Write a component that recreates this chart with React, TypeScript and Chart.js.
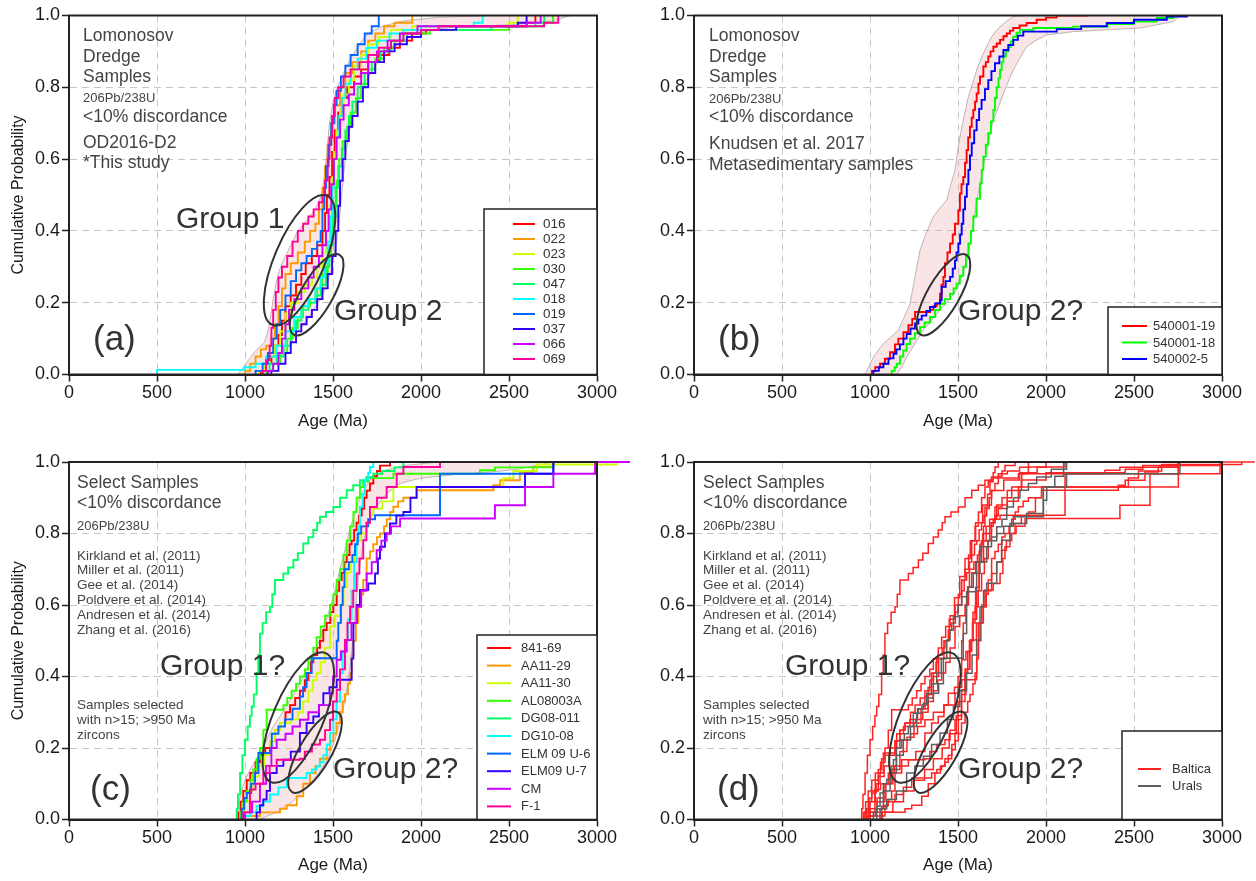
import React, { useEffect, useRef } from "react";
import { Chart, registerables } from "chart.js";

Chart.register(...registerables);

type Pt = [number, number];
const FONT = '"Liberation Sans", Arial, Helvetica, sans-serif';
Chart.defaults.font.family = FONT;

// ---------- axes ----------
const X_TICKS = [0, 500, 1000, 1500, 2000, 2500, 3000];
const Y_TICKS = [0, 0.2, 0.4, 0.6, 0.8, 1.0];
const X_TITLE = "Age (Ma)";
const Y_TITLE = "Cumulative Probability";

const RAINBOW10 = ["#FF0000", "#FF9900", "#CCFF00", "#33FF00", "#00FF66", "#00FFFF", "#0066FF", "#3300FF", "#CC00FF", "#FF0099"];

// ---------- panel (a) ----------
const A_LABELS = ["016", "022", "023", "030", "047", "018", "019", "037", "066", "069"];
const A_016: Pt[] = [[1090,0],[1090,0.01],[1120,0.03],[1150,0.05],[1170,0.08],[1190,0.11],[1210,0.15],[1230,0.19],[1260,0.22],[1290,0.25],[1320,0.28],[1345,0.31],[1380,0.33],[1410,0.36],[1440,0.4],[1455,0.45],[1465,0.5],[1480,0.55],[1495,0.62],[1510,0.68],[1530,0.73],[1550,0.77],[1580,0.8],[1620,0.83],[1660,0.85],[1700,0.87],[1760,0.89],[1820,0.91],[1880,0.93],[1950,0.95],[2030,0.96],[2200,0.97],[2600,0.98],[2650,1.0]];
const A_022: Pt[] = [[1000,0],[1000,0.01],[1030,0.03],[1060,0.05],[1090,0.07],[1120,0.08],[1150,0.1],[1170,0.14],[1190,0.19],[1210,0.24],[1230,0.28],[1260,0.31],[1300,0.34],[1340,0.37],[1370,0.4],[1400,0.42],[1420,0.46],[1440,0.52],[1455,0.58],[1470,0.64],[1490,0.7],[1510,0.75],[1540,0.8],[1570,0.84],[1610,0.87],[1660,0.9],[1700,0.93],[1740,0.95],[1790,0.97],[1850,0.98],[1950,1.0]];
const A_023: Pt[] = [[1080,0],[1080,0.01],[1110,0.03],[1140,0.05],[1170,0.08],[1200,0.12],[1230,0.17],[1260,0.2],[1300,0.23],[1340,0.25],[1380,0.27],[1410,0.3],[1440,0.34],[1460,0.4],[1480,0.47],[1495,0.55],[1505,0.62],[1520,0.68],[1540,0.74],[1560,0.78],[1590,0.82],[1620,0.86],[1660,0.89],[1700,0.92],[1760,0.94],[1830,0.96],[1950,0.97],[2500,0.98],[2550,1.0]];
const A_030: Pt[] = [[1120,0],[1120,0.01],[1160,0.03],[1200,0.06],[1240,0.1],[1270,0.13],[1300,0.16],[1330,0.19],[1370,0.21],[1410,0.24],[1440,0.28],[1470,0.33],[1490,0.4],[1505,0.47],[1520,0.54],[1535,0.6],[1555,0.65],[1580,0.69],[1600,0.73],[1630,0.77],[1660,0.81],[1700,0.85],[1740,0.88],[1790,0.91],[1850,0.93],[1920,0.95],[2050,0.96],[2500,0.97],[2700,0.98],[2750,1.0]];
const A_047: Pt[] = [[1100,0],[1100,0.01],[1140,0.03],[1180,0.05],[1220,0.08],[1260,0.12],[1290,0.15],[1320,0.18],[1360,0.2],[1400,0.22],[1430,0.25],[1460,0.3],[1480,0.36],[1500,0.44],[1515,0.52],[1530,0.58],[1550,0.63],[1570,0.68],[1590,0.72],[1610,0.76],[1640,0.8],[1680,0.84],[1720,0.87],[1770,0.9],[1830,0.93],[1900,0.95],[2000,0.96],[2400,0.97],[2650,0.98],[2700,1.0]];
const A_018: Pt[] = [[500,0],[500,0.013],[1000,0.02],[1060,0.03],[1120,0.05],[1180,0.08],[1230,0.12],[1280,0.16],[1320,0.19],[1360,0.21],[1400,0.24],[1430,0.27],[1450,0.31],[1470,0.37],[1485,0.44],[1495,0.52],[1505,0.6],[1520,0.66],[1535,0.72],[1550,0.77],[1570,0.81],[1600,0.85],[1640,0.88],[1690,0.91],[1750,0.93],[1820,0.95],[1900,0.96],[2000,0.97],[2300,0.98],[2350,1.0]];
const A_019: Pt[] = [[1060,0],[1060,0.01],[1100,0.03],[1130,0.06],[1160,0.1],[1180,0.14],[1200,0.18],[1230,0.22],[1260,0.26],[1290,0.29],[1320,0.31],[1350,0.33],[1380,0.35],[1410,0.37],[1430,0.4],[1440,0.46],[1450,0.52],[1460,0.58],[1475,0.64],[1490,0.7],[1505,0.75],[1520,0.79],[1545,0.83],[1570,0.86],[1600,0.89],[1640,0.92],[1680,0.95],[1720,0.97],[1760,1.0]];
const A_037: Pt[] = [[1150,0],[1150,0.01],[1190,0.03],[1230,0.06],[1260,0.09],[1290,0.12],[1320,0.14],[1350,0.16],[1380,0.18],[1410,0.21],[1440,0.24],[1470,0.28],[1495,0.33],[1515,0.4],[1530,0.47],[1540,0.54],[1555,0.6],[1570,0.65],[1590,0.69],[1610,0.72],[1640,0.76],[1670,0.8],[1700,0.84],[1740,0.87],[1790,0.9],[1850,0.92],[1920,0.94],[2000,0.96],[2200,0.97],[2550,0.98],[2600,1.0]];
const A_066: Pt[] = [[1130,0],[1130,0.01],[1160,0.03],[1190,0.06],[1210,0.1],[1230,0.14],[1250,0.18],[1280,0.21],[1320,0.24],[1360,0.27],[1390,0.3],[1420,0.33],[1440,0.36],[1460,0.4],[1475,0.46],[1490,0.53],[1505,0.6],[1520,0.66],[1540,0.71],[1560,0.75],[1590,0.78],[1620,0.81],[1660,0.84],[1700,0.87],[1750,0.9],[1810,0.93],[1880,0.95],[1980,0.97],[2600,0.98],[2680,1.0]];
const A_069: Pt[] = [[1100,0],[1100,0.01],[1120,0.04],[1140,0.08],[1150,0.13],[1160,0.18],[1175,0.23],[1190,0.27],[1210,0.3],[1240,0.33],[1270,0.37],[1300,0.4],[1330,0.42],[1360,0.44],[1390,0.46],[1420,0.48],[1440,0.5],[1455,0.54],[1470,0.6],[1480,0.66],[1495,0.72],[1510,0.77],[1530,0.8],[1560,0.83],[1600,0.85],[1650,0.87],[1700,0.89],[1760,0.91],[1830,0.93],[1900,0.95],[2000,0.96],[2100,0.97],[2700,0.98],[2780,1.0]];
const A_BAND: Pt[] = [[960,0],[990,0.02],[1020,0.04],[1050,0.06],[1080,0.075],[1110,0.09],[1130,0.12],[1145,0.16],[1160,0.21],[1175,0.25],[1195,0.29],[1220,0.32],[1260,0.36],[1300,0.4],[1350,0.43],[1400,0.46],[1435,0.5],[1450,0.55],[1465,0.62],[1480,0.7],[1500,0.76],[1525,0.8],[1560,0.84],[1600,0.88],[1650,0.92],[1700,0.95],[1780,0.97],[1900,0.985],[2100,0.995],[2400,1.0],[2850,1.0],[2750,0.985],[2550,0.975],[2200,0.968],[2050,0.96],[1950,0.945],[1870,0.92],[1800,0.89],[1740,0.86],[1690,0.82],[1650,0.77],[1615,0.72],[1590,0.67],[1570,0.6],[1555,0.53],[1540,0.45],[1520,0.37],[1495,0.3],[1465,0.25],[1430,0.21],[1390,0.18],[1350,0.15],[1300,0.12],[1250,0.08],[1200,0.05],[1160,0.02],[1130,0]];

// ---------- panel (b) ----------
const B_LABELS = ["540001-19", "540001-18", "540002-5"];
const B_COLORS = ["#FF0000", "#00FF00", "#0000FF"];
const B_540001_19: Pt[] = [[1010,0],[1010,0.01],[1030,0.02],[1057,0.03],[1085,0.044],[1114,0.062],[1142,0.084],[1161,0.1],[1190,0.118],[1218,0.137],[1240,0.155],[1256,0.174],[1341,0.18],[1360,0.19],[1379,0.197],[1398,0.225],[1407,0.25],[1417,0.272],[1426,0.31],[1440,0.34],[1455,0.365],[1470,0.39],[1483,0.42],[1502,0.457],[1511,0.504],[1520,0.53],[1530,0.55],[1540,0.59],[1549,0.625],[1558,0.66],[1568,0.69],[1578,0.715],[1587,0.737],[1597,0.76],[1606,0.783],[1616,0.81],[1625,0.83],[1644,0.858],[1658,0.87],[1672,0.886],[1685,0.9],[1701,0.913],[1720,0.922],[1739,0.932],[1758,0.942],[1777,0.95],[1795,0.958],[1814,0.965],[1850,0.972],[1890,0.979],[1947,0.988],[2000,0.994],[2060,1.0],[2240,1.0]];
const B_540001_18: Pt[] = [[1123,0],[1123,0.01],[1140,0.02],[1152,0.03],[1170,0.05],[1189,0.067],[1208,0.085],[1227,0.1],[1255,0.115],[1284,0.132],[1310,0.145],[1341,0.16],[1370,0.18],[1398,0.197],[1425,0.21],[1455,0.225],[1475,0.24],[1492,0.253],[1510,0.275],[1530,0.3],[1545,0.33],[1559,0.365],[1573,0.4],[1587,0.44],[1605,0.49],[1625,0.532],[1635,0.57],[1644,0.607],[1658,0.64],[1672,0.672],[1687,0.705],[1701,0.737],[1710,0.77],[1720,0.8],[1730,0.825],[1739,0.848],[1748,0.87],[1758,0.886],[1772,0.9],[1786,0.913],[1800,0.928],[1814,0.941],[1833,0.952],[1852,0.96],[1928,0.965],[2155,0.969],[2350,0.976],[2496,0.983],[2629,0.993],[2724,1.0]];
const B_540002_5: Pt[] = [[1019,0],[1019,0.01],[1050,0.02],[1076,0.03],[1105,0.045],[1133,0.058],[1150,0.07],[1170,0.084],[1190,0.1],[1208,0.113],[1230,0.128],[1256,0.142],[1275,0.153],[1294,0.164],[1320,0.177],[1341,0.188],[1370,0.198],[1398,0.207],[1407,0.244],[1430,0.26],[1455,0.272],[1470,0.295],[1483,0.318],[1492,0.34],[1502,0.365],[1512,0.39],[1521,0.42],[1530,0.46],[1540,0.495],[1550,0.53],[1559,0.57],[1568,0.61],[1578,0.644],[1592,0.68],[1606,0.709],[1620,0.74],[1634,0.765],[1653,0.795],[1672,0.82],[1690,0.845],[1710,0.867],[1735,0.886],[1758,0.904],[1786,0.918],[1814,0.932],[1840,0.944],[1871,0.955],[2061,0.962],[2200,0.97],[2345,0.979],[2500,0.988],[2686,0.997],[2800,1.0]];
const B_BAND: Pt[] = [[972,0],[1000,0.03],[1019,0.048],[1050,0.07],[1076,0.086],[1120,0.105],[1161,0.123],[1195,0.16],[1227,0.197],[1255,0.27],[1284,0.346],[1320,0.395],[1360,0.44],[1400,0.465],[1436,0.486],[1460,0.53],[1483,0.57],[1497,0.62],[1511,0.662],[1535,0.72],[1559,0.774],[1582,0.81],[1606,0.848],[1635,0.885],[1663,0.913],[1690,0.94],[1720,0.96],[1765,0.98],[1814,0.997],[1890,1.0],[2762,1.0],[2724,0.983],[2534,0.965],[2155,0.955],[2004,0.946],[1940,0.93],[1890,0.913],[1850,0.88],[1814,0.848],[1785,0.815],[1758,0.783],[1730,0.745],[1701,0.709],[1680,0.665],[1663,0.625],[1645,0.58],[1625,0.532],[1605,0.475],[1587,0.42],[1568,0.36],[1549,0.309],[1520,0.27],[1492,0.234],[1445,0.205],[1398,0.179],[1350,0.15],[1303,0.123],[1255,0.085],[1208,0.048],[1180,0.02],[1152,0]];

// ---------- panel (c) ----------
const C_LABELS = ["841-69", "AA11-29", "AA11-30", "AL08003A", "DG08-011", "DG10-08", "ELM 09 U-6", "ELM09 U-7", "CM", "F-1"];
const C_841_69: Pt[] = [[962,0],[962,0.02],[975,0.05],[990,0.08],[1010,0.11],[1030,0.13],[1060,0.16],[1085,0.18],[1115,0.2],[1142,0.22],[1170,0.25],[1199,0.27],[1230,0.3],[1256,0.32],[1285,0.34],[1312,0.36],[1340,0.39],[1360,0.41],[1375,0.44],[1388,0.46],[1410,0.48],[1426,0.5],[1445,0.53],[1464,0.55],[1485,0.58],[1502,0.6],[1521,0.64],[1535,0.67],[1549,0.69],[1565,0.72],[1578,0.74],[1594,0.77],[1606,0.78],[1620,0.81],[1634,0.83],[1648,0.85],[1663,0.87],[1677,0.9],[1691,0.92],[1710,0.94],[1729,0.96],[1750,0.975],[1767,0.99],[1824,1.0]];
const C_AA11_29: Pt[] = [[990,0],[990,0.01],[1085,0.02],[1199,0.03],[1237,0.04],[1294,0.065],[1331,0.1],[1369,0.13],[1400,0.15],[1426,0.17],[1464,0.195],[1485,0.22],[1502,0.24],[1520,0.27],[1540,0.3],[1555,0.33],[1568,0.35],[1585,0.38],[1597,0.41],[1607,0.46],[1616,0.5],[1630,0.55],[1644,0.595],[1660,0.63],[1672,0.67],[1691,0.73],[1710,0.75],[1729,0.77],[1750,0.79],[1767,0.8],[1790,0.82],[1805,0.84],[1825,0.86],[1843,0.875],[1870,0.89],[1900,0.9],[1975,0.921],[2411,0.935],[2450,0.949],[2562,0.972],[2638,0.986],[2752,1.0]];
const C_AA11_30: Pt[] = [[972,0],[972,0.02],[1000,0.05],[1030,0.08],[1047,0.12],[1080,0.15],[1110,0.18],[1142,0.22],[1170,0.25],[1199,0.27],[1260,0.28],[1300,0.3],[1330,0.33],[1360,0.36],[1385,0.39],[1407,0.41],[1430,0.44],[1455,0.48],[1483,0.54],[1510,0.57],[1540,0.6],[1560,0.65],[1578,0.69],[1600,0.72],[1620,0.75],[1634,0.78],[1660,0.8],[1690,0.83],[1710,0.85],[1729,0.87],[1780,0.89],[1843,0.93],[2468,0.955],[2525,0.975],[2657,0.993],[3112,1.0]];
const C_AL08003A: Pt[] = [[972,0],[972,0.02],[990,0.05],[1010,0.08],[1030,0.11],[1047,0.14],[1066,0.17],[1085,0.2],[1104,0.25],[1123,0.307],[1218,0.32],[1240,0.34],[1265,0.36],[1290,0.38],[1312,0.4],[1340,0.42],[1360,0.45],[1388,0.48],[1407,0.51],[1430,0.54],[1455,0.57],[1483,0.6],[1502,0.63],[1521,0.67],[1540,0.7],[1560,0.74],[1578,0.78],[1597,0.82],[1616,0.86],[1634,0.9],[1653,0.93],[1672,0.945],[1700,0.955],[1843,0.967],[2335,0.977],[2420,0.985],[2752,1.0]];
const C_DG08_011: Pt[] = [[953,0],[953,0.03],[960,0.07],[972,0.13],[985,0.18],[1000,0.223],[1015,0.26],[1028,0.29],[1038,0.316],[1050,0.35],[1066,0.41],[1075,0.46],[1085,0.52],[1100,0.55],[1120,0.58],[1142,0.595],[1155,0.63],[1170,0.67],[1218,0.688],[1245,0.705],[1275,0.726],[1300,0.745],[1331,0.772],[1360,0.79],[1388,0.81],[1410,0.83],[1426,0.847],[1460,0.86],[1502,0.874],[1540,0.9],[1578,0.921],[1615,0.935],[1653,0.949],[1690,0.958],[1729,0.967],[1780,0.975],[1850,0.985],[1900,1.0]];
const C_DG10_08: Pt[] = [[990,0],[990,0.01],[1030,0.02],[1066,0.037],[1100,0.05],[1142,0.07],[1190,0.09],[1237,0.116],[1350,0.13],[1380,0.14],[1407,0.149],[1425,0.16],[1445,0.18],[1465,0.21],[1483,0.242],[1502,0.28],[1520,0.33],[1540,0.41],[1555,0.47],[1568,0.5],[1585,0.56],[1606,0.64],[1620,0.72],[1634,0.78],[1645,0.82],[1653,0.874],[1668,0.91],[1682,0.95],[1700,0.97],[1710,0.986],[1729,1.0]];
const C_ELM09_U6: Pt[] = [[981,0],[981,0.03],[995,0.06],[1010,0.074],[1035,0.1],[1057,0.13],[1076,0.186],[1142,0.2],[1152,0.24],[1190,0.26],[1227,0.28],[1270,0.31],[1312,0.344],[1330,0.37],[1350,0.41],[1379,0.451],[1521,0.5],[1530,0.55],[1545,0.6],[1555,0.65],[1565,0.7],[1590,0.72],[1610,0.74],[1625,0.77],[1640,0.8],[1660,0.82],[1700,0.84],[1739,0.851],[2108,0.967],[2752,1.0]];
const C_ELM09_U7: Pt[] = [[1066,0],[1066,0.02],[1085,0.04],[1104,0.056],[1123,0.08],[1142,0.13],[1180,0.15],[1218,0.167],[1260,0.19],[1312,0.242],[1350,0.27],[1388,0.288],[1420,0.32],[1445,0.353],[1480,0.37],[1521,0.391],[1606,0.45],[1616,0.55],[1635,0.6],[1653,0.642],[1700,0.66],[1739,0.688],[1755,0.73],[1767,0.763],[1795,0.8],[1824,0.828],[1860,0.85],[1900,0.86],[1940,0.9],[1975,0.93],[2591,0.967],[2752,1.0]];
const C_CM: Pt[] = [[1000,0],[1000,0.02],[1040,0.05],[1085,0.1],[1120,0.15],[1150,0.2],[1180,0.223],[1230,0.24],[1270,0.26],[1312,0.279],[1360,0.3],[1420,0.32],[1483,0.353],[1500,0.4],[1521,0.447],[1545,0.47],[1578,0.502],[1605,0.55],[1634,0.595],[1660,0.64],[1691,0.688],[1720,0.72],[1748,0.753],[1775,0.78],[1805,0.8],[1830,0.82],[1881,0.842],[2420,0.879],[2591,0.93],[2752,0.967],[2989,1.0],[3187,1.0]];
const C_F1: Pt[] = [[990,0],[990,0.02],[1028,0.084],[1060,0.1],[1104,0.13],[1140,0.15],[1180,0.167],[1312,0.17],[1340,0.19],[1380,0.21],[1426,0.223],[1455,0.25],[1483,0.279],[1500,0.33],[1521,0.363],[1540,0.42],[1568,0.502],[1582,0.55],[1597,0.595],[1615,0.64],[1634,0.688],[1650,0.73],[1672,0.781],[1690,0.83],[1710,0.874],[1750,0.9],[1805,0.93],[1862,0.967],[1900,0.986],[2108,1.0]];
const C_BAND: Pt[] = [[950,0],[965,0.05],[985,0.09],[1010,0.12],[1040,0.15],[1080,0.18],[1120,0.22],[1160,0.26],[1200,0.29],[1250,0.33],[1300,0.37],[1350,0.42],[1390,0.46],[1430,0.51],[1470,0.57],[1505,0.63],[1535,0.69],[1565,0.75],[1595,0.81],[1625,0.86],[1660,0.91],[1710,0.95],[1780,0.975],[1900,0.99],[2100,1.0],[2760,1.0],[2650,0.99],[2550,0.98],[2400,0.972],[2200,0.965],[2000,0.955],[1880,0.94],[1800,0.91],[1740,0.87],[1700,0.83],[1670,0.77],[1650,0.7],[1630,0.6],[1612,0.5],[1595,0.42],[1575,0.35],[1545,0.28],[1510,0.22],[1470,0.17],[1420,0.13],[1350,0.09],[1270,0.05],[1180,0.02],[1080,0]];

// ---------- panel (d) ----------
const D_LEGEND = ["Baltica", "Urals"];
const D_COLORS = ["#FF2222", "#5E5E5E"];
const D_BALTICA_11: Pt[] = [[1000,0],[1000,0.03],[1040,0.06],[1090,0.1],[1130,0.14],[1170,0.19],[1210,0.23],[1250,0.27],[1290,0.31],[1330,0.35],[1360,0.4],[1390,0.45],[1420,0.5],[1450,0.56],[1480,0.62],[1510,0.68],[1540,0.73],[1570,0.78],[1600,0.83],[1640,0.88],[1690,0.92],[1760,0.95],[1850,0.97],[1950,0.985],[2000,1.0]];
const D_BALTICA_12: Pt[] = [[1070,0],[1070,0.02],[1130,0.05],[1190,0.08],[1250,0.11],[1310,0.14],[1360,0.17],[1410,0.2],[1450,0.24],[1490,0.29],[1520,0.35],[1545,0.42],[1565,0.5],[1585,0.58],[1600,0.65],[1620,0.72],[1645,0.78],[1680,0.84],[1720,0.88],[1780,0.92],[1860,0.95],[2000,0.97],[2450,0.98],[2550,0.99],[3000,1.0],[3193,1.0]];
const D_URALS_1: Pt[] = [[1019,0],[1019,0.02],[1038,0.037],[1057,0.074],[1076,0.1],[1095,0.112],[1114,0.14],[1133,0.167],[1150,0.2],[1170,0.223],[1195,0.24],[1218,0.26],[1246,0.297],[1275,0.31],[1303,0.325],[1330,0.34],[1360,0.353],[1390,0.38],[1417,0.451],[1530,0.52],[1549,0.637],[1606,0.72],[1625,0.763],[1670,0.78],[1720,0.8],[1760,0.82],[1814,0.847],[1985,0.93],[2117,0.967],[2761,1.0]];
const D_URALS_2: Pt[] = [[1038,0],[1038,0.03],[1076,0.08],[1114,0.13],[1150,0.18],[1189,0.223],[1230,0.26],[1265,0.297],[1295,0.32],[1322,0.353],[1350,0.38],[1379,0.41],[1405,0.45],[1436,0.502],[1455,0.53],[1474,0.567],[1500,0.6],[1521,0.623],[1555,0.65],[1587,0.688],[1625,0.72],[1663,0.763],[1690,0.79],[1720,0.819],[1750,0.84],[1777,0.874],[1815,0.9],[1852,0.921],[1900,0.94],[1947,0.958],[2030,0.98],[2117,1.0]];
const D_URALS_3: Pt[] = [[1057,0],[1057,0.03],[1095,0.056],[1150,0.08],[1208,0.13],[1255,0.15],[1303,0.177],[1350,0.21],[1398,0.242],[1440,0.28],[1474,0.316],[1510,0.36],[1549,0.409],[1580,0.46],[1606,0.502],[1625,0.595],[1645,0.64],[1663,0.661],[1720,0.72],[1748,0.781],[1795,0.828],[1890,0.856],[1985,0.893],[2004,0.93],[2050,0.96],[2100,1.0]];

// ---------- panel layout / annotations ----------
type Txt = { t: string; x: number; y: number; s: number; c?: string };
type Ell = { age: number; p: number; a: number; b: number; rot: number };
type Leg = { x1: number; y1: number; x2: number; y2: number; lx1: number; lx2: number; tx: number; row0: number; dy: number; size: number; items: { label: string; color: string }[] };
type Series = { label: string; data: Pt[]; color: string; width?: number };
type PanelCfg = {
  left: number; top: number; width: number; height: number;
  area: { left: number; top: number; right: number; bottom: number };
  series: Series[]; band?: Pt[]; yTitle: boolean; extend: boolean;
  xTitlePad: number; texts: Txt[]; ellipses: Ell[]; legend: Leg;
};

const A_SERIES_DATA = [A_016, A_022, A_023, A_030, A_047, A_018, A_019, A_037, A_066, A_069];
const B_SERIES_DATA = [B_540001_19, B_540001_18, B_540002_5];
const C_SERIES_DATA = [C_841_69, C_AA11_29, C_AA11_30, C_AL08003A, C_DG08_011, C_DG10_08, C_ELM09_U6, C_ELM09_U7, C_CM, C_F1];

const labText = (ys: number[], x: number, lines: string[], sizes: number[]): Txt[] =>
  lines.map((t, i) => ({ t, x, y: ys[i], s: sizes[i] }));

const SEL_LINES = ["Select Samples", "<10% discordance", "206Pb/238U", "Kirkland et al. (2011)", "Miller et al. (2011)", "Gee et al. (2014)", "Poldvere et al. (2014)", "Andresen et al. (2014)", "Zhang et al. (2016)", "Samples selected", "with n>15; >950 Ma", "zircons"];
const SEL_Y = [43, 63, 86, 116, 130, 145, 160, 175, 190, 265, 280, 295];
const SEL_S = [17.5, 17.5, 13, 13.5, 13.5, 13.5, 13.5, 13.5, 13.5, 13.5, 13.5, 13.5];

const PANEL_A: PanelCfg = {
  left: 0, top: 0, width: 628, height: 440,
  area: { left: 69, top: 15.5, right: 597, bottom: 374.5 },
  series: A_LABELS.map((l, i) => ({ label: l, data: A_SERIES_DATA[i], color: RAINBOW10[i] })),
  band: A_BAND, yTitle: true, extend: false, xTitlePad: 8,
  texts: [
    ...labText([36, 57, 77, 98, 117, 143, 163], 83, ["Lomonosov", "Dredge", "Samples", "206Pb/238U", "<10% discordance", "OD2016-D2", "*This study"], [17.5, 17.5, 17.5, 13, 17.5, 17.5, 17.5]),
    { t: "Group 1", x: 176, y: 220, s: 30, c: "#333" },
    { t: "Group 2", x: 334, y: 312, s: 30, c: "#333" },
    { t: "(a)", x: 93, y: 340, s: 35, c: "#333" },
  ],
  ellipses: [{ age: 1310, p: 0.318, a: 70, b: 25, rot: -67 }, { age: 1407, p: 0.222, a: 46, b: 16, rot: -60 }],
  legend: { x1: 484, y1: 209, x2: 597, y2: 374.5, lx1: 513, lx2: 535, tx: 543, row0: 224, dy: 15, size: 13.5, items: A_LABELS.map((l, i) => ({ label: l, color: RAINBOW10[i] })) },
};

const PANEL_B: PanelCfg = {
  left: 628, top: 0, width: 628, height: 440,
  area: { left: 66, top: 15.5, right: 594, bottom: 374.5 },
  series: B_LABELS.map((l, i) => ({ label: l, data: B_SERIES_DATA[i], color: B_COLORS[i] })),
  band: B_BAND, yTitle: false, extend: false, xTitlePad: 8,
  texts: [
    ...labText([36, 57, 77, 99, 117, 144, 165], 81, ["Lomonosov", "Dredge", "Samples", "206Pb/238U", "<10% discordance", "Knudsen et al. 2017", "Metasedimentary samples"], [17.5, 17.5, 17.5, 13, 17.5, 17.5, 17.5]),
    { t: "Group 2?", x: 330, y: 312, s: 30, c: "#333" },
    { t: "(b)", x: 90, y: 340, s: 35, c: "#333" },
  ],
  ellipses: [{ age: 1417, p: 0.222, a: 46, b: 16, rot: -60 }],
  legend: { x1: 480, y1: 307, x2: 594, y2: 374.5, lx1: 494, lx2: 519, tx: 525, row0: 326, dy: 16.5, size: 13, items: B_LABELS.map((l, i) => ({ label: l, color: B_COLORS[i] })) },
};

const PANEL_C: PanelCfg = {
  left: 0, top: 440, width: 660, height: 441,
  area: { left: 69, top: 22, right: 597, bottom: 379.5 },
  series: C_LABELS.map((l, i) => ({ label: l, data: C_SERIES_DATA[i], color: RAINBOW10[i] })),
  band: C_BAND, yTitle: true, extend: true, xTitlePad: 5,
  texts: [
    ...labText(SEL_Y, 77, SEL_LINES, SEL_S),
    { t: "Group 1?", x: 160, y: 227, s: 30, c: "#333" },
    { t: "Group 2?", x: 333, y: 330, s: 30, c: "#333" },
    { t: "(c)", x: 90, y: 350, s: 35, c: "#333" },
  ],
  ellipses: [{ age: 1303, p: 0.285, a: 70, b: 25, rot: -67 }, { age: 1398, p: 0.188, a: 46, b: 16, rot: -60 }],
  legend: { x1: 477, y1: 195, x2: 597, y2: 379.5, lx1: 487, lx2: 511, tx: 521, row0: 208, dy: 17.6, size: 13, items: C_LABELS.map((l, i) => ({ label: l, color: RAINBOW10[i] })) },
};

const PANEL_D: PanelCfg = {
  left: 628, top: 440, width: 628, height: 441,
  area: { left: 66, top: 22, right: 594, bottom: 379.5 },
  series: [
    ...C_LABELS.map((l, i) => ({ label: l + " (" + D_LEGEND[0] + ")", data: C_SERIES_DATA[i], color: D_COLORS[0], width: 1.5 })),
    { label: "B11 (" + D_LEGEND[0] + ")", data: D_BALTICA_11, color: D_COLORS[0], width: 1.5 },
    { label: "B12 (" + D_LEGEND[0] + ")", data: D_BALTICA_12, color: D_COLORS[0], width: 1.5 },
    { label: "U1 (" + D_LEGEND[1] + ")", data: D_URALS_1, color: D_COLORS[1], width: 1.5 },
    { label: "U2 (" + D_LEGEND[1] + ")", data: D_URALS_2, color: D_COLORS[1], width: 1.5 },
    { label: "U3 (" + D_LEGEND[1] + ")", data: D_URALS_3, color: D_COLORS[1], width: 1.5 },
  ],
  yTitle: false, extend: true, xTitlePad: 5,
  texts: [
    ...labText(SEL_Y, 75, SEL_LINES, SEL_S),
    { t: "Group 1?", x: 157, y: 227, s: 30, c: "#333" },
    { t: "Group 2?", x: 330, y: 330, s: 30, c: "#333" },
    { t: "(d)", x: 89, y: 350, s: 35, c: "#333" },
  ],
  ellipses: [{ age: 1312, p: 0.285, a: 70, b: 25, rot: -67 }, { age: 1401, p: 0.188, a: 46, b: 16, rot: -60 }],
  legend: { x1: 494, y1: 291, x2: 594, y2: 379.5, lx1: 510, lx2: 533, tx: 544, row0: 329, dy: 17, size: 13, items: D_LEGEND.map((l, i) => ({ label: l, color: D_COLORS[i] })) },
};

const PANELS = [PANEL_A, PANEL_B, PANEL_C, PANEL_D];

// ---------- chart building ----------
const annotPlugin = {
  id: "annot",
  afterDraw(chart: any, _args: any, opts: any) {
    const cfg: PanelCfg = opts.cfg;
    const ctx = chart.ctx as CanvasRenderingContext2D;
    const ca = chart.chartArea;
    ctx.save();
    // frame
    ctx.strokeStyle = "#222";
    ctx.lineWidth = 2;
    ctx.strokeRect(ca.left, ca.top, ca.right - ca.left, ca.bottom - ca.top);
    // ellipses
    ctx.strokeStyle = "#333";
    ctx.lineWidth = 2;
    for (const e of cfg.ellipses) {
      const cx = chart.scales.x.getPixelForValue(e.age);
      const cy = chart.scales.y.getPixelForValue(e.p);
      ctx.beginPath();
      ctx.ellipse(cx, cy, e.a, e.b, (e.rot * Math.PI) / 180, 0, Math.PI * 2);
      ctx.stroke();
    }
    // texts
    ctx.textBaseline = "middle";
    ctx.textAlign = "left";
    for (const t of cfg.texts) {
      ctx.font = `${t.s}px ${FONT}`;
      ctx.fillStyle = t.c || "#444";
      ctx.fillText(t.t, t.x, t.y);
    }
    // legend
    const L = cfg.legend;
    ctx.fillStyle = "#fff";
    ctx.fillRect(L.x1, L.y1, L.x2 - L.x1, L.y2 - L.y1);
    ctx.strokeStyle = "#222";
    ctx.lineWidth = 1.5;
    ctx.strokeRect(L.x1, L.y1, L.x2 - L.x1, L.y2 - L.y1);
    ctx.font = `${L.size}px ${FONT}`;
    L.items.forEach((it, i) => {
      const y = L.row0 + i * L.dy;
      ctx.strokeStyle = it.color;
      ctx.lineWidth = 2;
      ctx.beginPath();
      ctx.moveTo(L.lx1, y);
      ctx.lineTo(L.lx2, y);
      ctx.stroke();
      ctx.fillStyle = "#333";
      ctx.fillText(it.label, L.tx, y + 0.5);
    });
    ctx.restore();
  },
};

function makeConfig(cfg: PanelCfg): any {
  const n = cfg.series.length;
  const datasets: any[] = cfg.series.map((s, i) => ({
    label: s.label,
    data: s.data.map(([x, y]) => ({ x, y })),
    borderColor: s.color,
    backgroundColor: s.color,
    borderWidth: s.width || 1.9,
    pointRadius: 0,
    stepped: "before",
    fill: false,
    order: n - i,
    ...(cfg.extend ? { clip: false } : {}),
  }));
  if (cfg.band) {
    datasets.push({
      label: "envelope",
      data: cfg.band.map(([x, y]) => ({ x, y })),
      borderColor: "rgba(150,140,140,0.6)",
      backgroundColor: "rgba(232,160,160,0.28)",
      borderWidth: 1,
      pointRadius: 0,
      fill: "shape",
      tension: 0,
      order: 1000,
    });
  }
  const gridColor = (count: number) => (c: any) => (c.index === 0 || c.index === count - 1 ? "rgba(0,0,0,0)" : "#c6c6c6");
  const W = cfg.width, H = cfg.height, A = cfg.area;
  return {
    type: "line",
    data: { datasets },
    plugins: [annotPlugin],
    options: {
      responsive: false,
      animation: false,
      devicePixelRatio: 1,
      events: [],
      layout: { padding: { top: A.top, right: W - A.right, left: 0, bottom: 0 } },
      plugins: { legend: { display: false }, tooltip: { enabled: false }, annot: { cfg } },
      scales: {
        x: {
          type: "linear", min: 0, max: 3000,
          afterBuildTicks: (s: any) => { s.ticks = X_TICKS.map((v) => ({ value: v })); },
          afterFit: (s: any) => { s.height = H - A.bottom; s.paddingLeft = 0; s.paddingRight = 0; s.paddingTop = 0; s.paddingBottom = 0; },
          ticks: { font: { size: 18, family: FONT }, color: "#1a1a1a", padding: 1, maxRotation: 0, autoSkip: false, callback: (v: any) => String(v) },
          grid: { color: gridColor(X_TICKS.length), lineWidth: 1, tickColor: "#222", tickLength: 7, tickWidth: 1.5 },
          border: { display: true, color: "#222", width: 2, dash: [7, 5] },
          title: { display: true, text: X_TITLE, font: { size: 17, family: FONT }, color: "#1a1a1a", padding: { top: 0, bottom: cfg.xTitlePad } },
        },
        y: {
          type: "linear", min: 0, max: 1,
          afterBuildTicks: (s: any) => { s.ticks = Y_TICKS.map((v) => ({ value: v })); },
          afterFit: (s: any) => { s.width = A.left; s.paddingLeft = 0; s.paddingRight = 0; s.paddingTop = 0; s.paddingBottom = 0; },
          ticks: { font: { size: 18, family: FONT }, color: "#1a1a1a", padding: 2, autoSkip: false, callback: (v: any) => Number(v).toFixed(1) },
          grid: { color: gridColor(Y_TICKS.length), lineWidth: 1, tickColor: "#222", tickLength: 7, tickWidth: 1.5 },
          border: { display: true, color: "#222", width: 2, dash: [7, 5] },
          title: { display: cfg.yTitle, text: Y_TITLE, font: { size: 16, family: FONT }, color: "#1a1a1a", padding: { top: 9, bottom: 0 } },
        },
      },
    },
  };
}

function Panel({ cfg }: { cfg: PanelCfg }) {
  const ref = useRef<HTMLCanvasElement>(null);
  useEffect(() => {
    const chart = new Chart(ref.current as HTMLCanvasElement, makeConfig(cfg));
    return () => chart.destroy();
  }, [cfg]);
  return (
    <canvas
      ref={ref}
      width={cfg.width}
      height={cfg.height}
      style={{ position: "absolute", left: cfg.left, top: cfg.top, width: cfg.width, height: cfg.height }}
    />
  );
}

export default function App() {
  return (
    <div style={{ position: "absolute", left: 0, top: 0, width: 1256, height: 881, background: "#fff", overflow: "hidden" }}>
      {PANELS.map((p, i) => (
        <Panel key={i} cfg={p} />
      ))}
    </div>
  );
}
